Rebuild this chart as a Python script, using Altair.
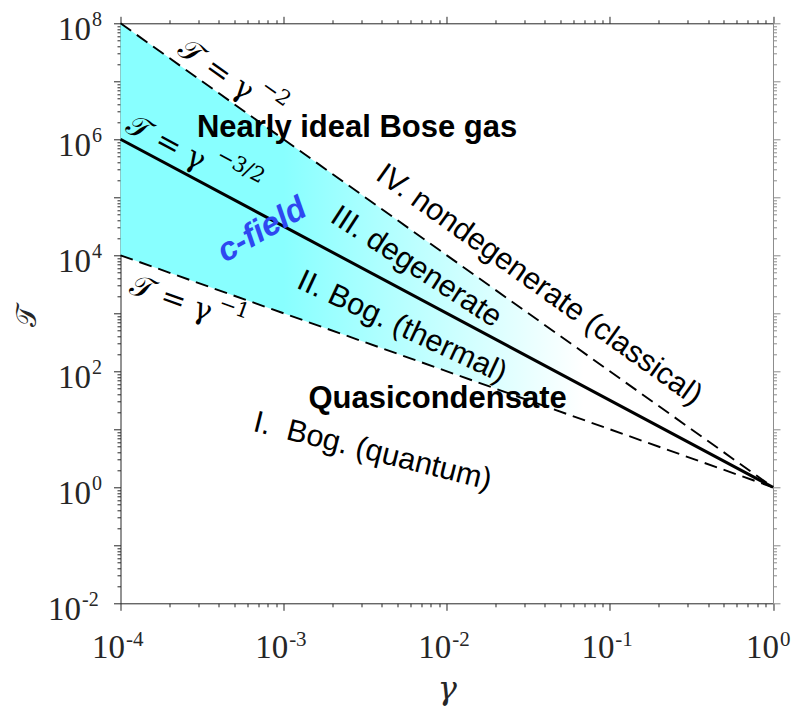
import altair as alt
import pandas as pd

# ---------------- data ----------------
gamma_ends = [1e-4, 1.0]
T_upper = [1e8, 1.0]      # T = gamma^-2
T_middle = [1e6, 1.0]     # T = gamma^-3/2
T_lower = [1e4, 1.0]      # T = gamma^-1

x_major = [1e-4, 1e-3, 1e-2, 1e-1, 1.0]
x_exp = ["-4", "-3", "-2", "-1", "0"]
y_major = [1e-2, 1e0, 1e2, 1e4, 1e6, 1e8]
y_exp = ["-2", "0", "2", "4", "6", "8"]

region_labels = ["Nearly ideal Bose gas", "Quasicondensate",
                 "IV. nondegenerate (classical)", "III. degenerate",
                 "II. Bog. (thermal)", "I.\u00a0 Bog. (quantum)", "c-field"]
region_gamma = [2.82e-3, 8.78e-3, 3.68e-2, 6.49e-3, 5.32e-3, 3.51e-3, 7.37e-4]
region_T = [1.10e6, 23.3, 3.08e3, 6.28e3, 581.0, 4.14, 2.73e4]

curve_labels = ["𝒯 = γ", "𝒯 = γ", "𝒯 = γ"]
curve_exps = ["−2", "−3/2", "−1"]
curve_gamma = [3.85e-4, 1.90e-4, 2.04e-4]
curve_T = [1.57e7, 8.63e5, 1.77e3]
curve_exp_gamma = [8.70e-4, 5.33e-4, 4.90e-4]
curve_exp_T = [5.60e6, 3.08e5, 1.10e3]

# ---------------- layout / style ----------------
W, H = 652.5, 580
SERIF = "Liberation Serif, DejaVu Serif, serif"
MATH = "DejaVu Serif, Liberation Serif, serif"
SANS = "Liberation Sans, Arial, sans-serif"
INK = "#262626"
CYAN = "#88ffff"
BLUE = "#2e48f0"

xs = alt.Scale(type="log", domain=[1e-4, 1.0], nice=False)
ys = alt.Scale(type="log", domain=[1e-2, 1e8], nice=False)

x_ticks = [m * 10.0 ** k for k in range(-4, 0) for m in range(1, 10)] + [1.0]
y_ticks = [m * 10.0 ** k for k in range(-2, 8) for m in range(1, 10)] + [1e8]
MAJ = "abs(log(datum.value)/LN10 - round(log(datum.value)/LN10)) < 0.001"
TS = {"condition": {"test": MAJ, "value": 7}, "value": 3.5}


def ax(orient, values, color=INK, **kw):
    return alt.Axis(orient=orient, values=values, grid=False, labels=False,
                    domainColor=color, tickColor=color, tickWidth=1,
                    domainWidth=1, tickSize=TS, **kw)


bottom = ax("bottom", x_ticks, title="γ", titleFont=MATH, titleFontSize=32,
            titleFontStyle="italic", titleFontWeight="normal", titleColor=INK,
            titleX=W / 2, titleY=95, titleBaseline="alphabetic", titleAlign="center")
left = ax("left", y_ticks, title="𝒯", titleFont=MATH, titleFontSize=28,
          titleFontWeight="normal", titleColor=INK, titleAngle=270,
          titleX=-93, titleY=H / 2 + 3, titleBaseline="middle", titleAlign="center")
top = ax("top", x_ticks, title="")
right = ax("right", y_ticks, color="#8c8c8c", title="")

area_df = pd.DataFrame({"gamma": gamma_ends, "hi": T_upper, "lo": T_lower})
lines_df = pd.DataFrame({
    "gamma": gamma_ends * 3,
    "T": T_upper + T_middle + T_lower,
    "curve": ["hi", "hi", "mid", "mid", "lo", "lo"],
})

grad = alt.LinearGradient(
    gradient="linear",
    stops=[alt.GradientStop(color=CYAN, offset=0),
           alt.GradientStop(color=CYAN, offset=0.25),
           alt.GradientStop(color="#ffffff", offset=0.71)],
    x1=0, x2=1, y1=0, y2=0)

area = alt.Chart(area_df).mark_area(color=grad, opacity=1).encode(
    x=alt.X("gamma:Q", scale=xs, axis=bottom),
    y=alt.Y("hi:Q", scale=ys, axis=left),
    y2="lo:Q",
)

dashed = alt.Chart(lines_df).transform_filter("datum.curve != 'mid'").mark_line(
    color="black", strokeWidth=1.9, strokeDash=[13, 7]).encode(
    x=alt.X("gamma:Q", scale=xs, axis=top),
    y=alt.Y("T:Q", scale=ys, axis=right),
    detail="curve:N",
)

solid = alt.Chart(lines_df).transform_filter("datum.curve == 'mid'").mark_line(
    color="black", strokeWidth=3).encode(
    x=alt.X("gamma:Q", scale=xs, axis=None),
    y=alt.Y("T:Q", scale=ys, axis=None),
)

layers = [area, dashed, solid]

# ---------------- axis tick labels (10 + superscript) ----------------
xl_df = pd.DataFrame({"v": x_major, "e": x_exp, "neg": [e.startswith("-") for e in x_exp]})
yl_df = pd.DataFrame({"v": y_major, "e": y_exp, "neg": [e.startswith("-") for e in y_exp]})

for neg, J in [(True, 4.5), (False, 6.0)]:
    base = alt.Chart(xl_df).transform_filter("datum.neg" if neg else "!datum.neg")
    layers.append(base.mark_text(text="10", font=SERIF, fontSize=33, color=INK,
                                 align="right", baseline="alphabetic", dx=J).encode(
        x=alt.X("v:Q", scale=xs, axis=None), y=alt.value(H + 55)))
    layers.append(base.mark_text(font=SERIF, fontSize=21, color=INK,
                                 align="left", baseline="alphabetic", dx=J + 1).encode(
        x=alt.X("v:Q", scale=xs, axis=None), y=alt.value(H + 43), text="e:N"))

for neg, J in [(True, -39.5), (False, -29.5)]:
    base = alt.Chart(yl_df).transform_filter("datum.neg" if neg else "!datum.neg")
    layers.append(base.mark_text(text="10", font=SERIF, fontSize=33, color=INK,
                                 align="right", baseline="alphabetic", dy=16.5).encode(
        y=alt.Y("v:Q", scale=ys, axis=None), x=alt.value(J)))
    layers.append(base.mark_text(font=SERIF, fontSize=20, color=INK,
                                 align="left", baseline="alphabetic", dx=1, dy=3).encode(
        y=alt.Y("v:Q", scale=ys, axis=None), x=alt.value(J), text="e:N"))

# ---------------- region annotations ----------------
region_style = [
    dict(fontSize=31, fontWeight="bold", angle=0, baseline="alphabetic", color="black"),
    dict(fontSize=31, fontWeight="bold", angle=0, baseline="alphabetic", color="black"),
    dict(fontSize=30.5, angle=35.5, baseline="middle", color="black"),
    dict(fontSize=30.5, angle=33, baseline="middle", color="black"),
    dict(fontSize=30.5, angle=25, baseline="middle", color="black"),
    dict(fontSize=30.5, angle=14, baseline="middle", color="black"),
    dict(fontSize=33, fontWeight="bold", fontStyle="italic", angle=330,
         baseline="middle", color=BLUE),
]
for i, st in enumerate(region_style):
    df = pd.DataFrame({"g": [region_gamma[i]], "T": [region_T[i]], "t": [region_labels[i]]})
    layers.append(alt.Chart(df).mark_text(font=SANS, align="center", **st).encode(
        x=alt.X("g:Q", scale=xs, axis=None),
        y=alt.Y("T:Q", scale=ys, axis=None),
        text="t:N"))

# ---------------- curve labels ----------------
curve_angle = [35.4, 28.1, 19.6]
for i in range(3):
    df = pd.DataFrame({"g": [curve_gamma[i]], "T": [curve_T[i]], "t": [curve_labels[i]]})
    layers.append(alt.Chart(df).mark_text(font=MATH, fontSize=30, color="black",
                                          align="center", baseline="middle",
                                          angle=curve_angle[i]).encode(
        x=alt.X("g:Q", scale=xs, axis=None),
        y=alt.Y("T:Q", scale=ys, axis=None),
        text="t:N"))
    df2 = pd.DataFrame({"g": [curve_exp_gamma[i]], "T": [curve_exp_T[i]], "t": [curve_exps[i]]})
    layers.append(alt.Chart(df2).mark_text(font=MATH, fontSize=21, color="black",
                                           align="center", baseline="middle",
                                           angle=curve_angle[i], dy=-3).encode(
        x=alt.X("g:Q", scale=xs, axis=None),
        y=alt.Y("T:Q", scale=ys, axis=None),
        text="t:N"))

chart = alt.layer(*layers).resolve_axis(x="independent", y="independent").properties(
    width=W, height=H,
    autosize=alt.AutoSizeParams(type="none"),
    padding={"left": 112.5, "top": 15.3, "right": 25, "bottom": 108},
).configure_view(stroke="transparent")

chart.save("out.html", embed_options={"renderer": "svg", "actions": False})
